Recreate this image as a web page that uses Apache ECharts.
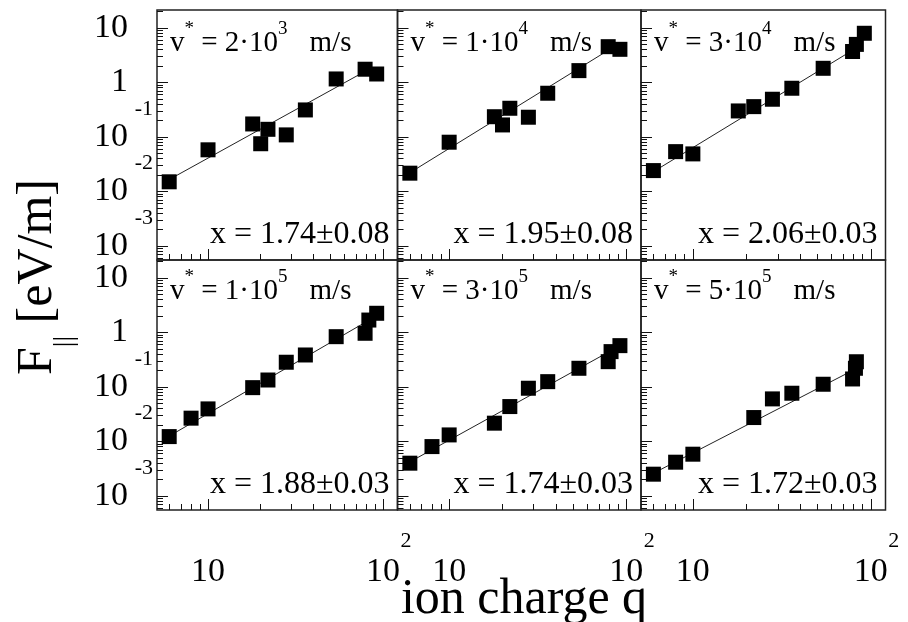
<!DOCTYPE html>
<html><head><meta charset="utf-8">
<script src="https://cdn.jsdelivr.net/npm/echarts@6/dist/echarts.min.js"></script>
<style>html,body{margin:0;padding:0;background:#fff}#c{width:908px;height:622px}</style>
</head><body><div id="c"></div>
<script>
// ---- data (ion charge q, stopping force F|| in eV/m) ----
const q1 = [6, 10, 18, 20, 22, 28, 36, 54, 79, 92];
const F1 = [0.015, 0.058, 0.173, 0.075, 0.138, 0.109, 0.313, 1.16, 1.75, 1.43];
const q2 = [6, 10, 18, 20, 22, 28, 36, 54, 79, 92];
const F2 = [0.0216, 0.080, 0.235, 0.166, 0.336, 0.230, 0.634, 1.65, 4.54, 4.06];
const q3 = [6, 8, 10, 18, 22, 28, 36, 54, 79, 83, 92];
const F3 = [0.0241, 0.0537, 0.0488, 0.300, 0.360, 0.492, 0.783, 1.82, 3.7, 5.0, 8.0];
const q4 = [6, 8, 10, 18, 22, 28, 36, 54, 79, 83, 92];
const F4 = [0.01225, 0.0267, 0.0395, 0.097, 0.134, 0.284, 0.386, 0.837, 0.966, 1.69, 2.25];
const q5 = [6, 8, 10, 18, 22, 28, 36, 54, 79, 82, 92];
const F5 = [0.00398, 0.00803, 0.01315, 0.0216, 0.0436, 0.0946, 0.125, 0.220, 0.291, 0.445, 0.573];
const q6 = [6, 8, 10, 22, 28, 36, 54, 79, 82, 83];
const F6 = [0.0025, 0.00415, 0.00582, 0.0274, 0.0603, 0.0766, 0.112, 0.14, 0.22, 0.29];

// fit lines (end points)
const fitQ1 = [6, 79], fitF1 = [0.0165, 1.6];
const fitQ2 = [6, 82], fitF2 = [0.022, 4.2];
const fitQ3 = [6, 80], fitF3 = [0.023, 4.0];
const fitQ4 = [6, 85], fitF4 = [0.0125, 1.75];
const fitQ5 = [6, 92], fitF5 = [0.0042, 0.57];
const fitQ6 = [6, 79], fitF6 = [0.0026, 0.2];

// panel texts
const vMantissa = ['2', '1', '3', '1', '3', '5'];
const vExponent = ['3', '4', '4', '5', '5', '5'];
const slopeText = ['1.74±0.08', '1.95±0.08', '2.06±0.03', '1.88±0.03', '1.74±0.03', '1.72±0.03'];

// ticks
const xMajorTicks = [10, 100];
const xMinorTicks = [6, 7, 8, 9, 20, 30, 40, 50, 60, 70, 80, 90];
const xSupTicks = [100];
const yMajorTicks = [0.001, 0.01, 0.1, 1, 10];
const ySupTicks = [0.001, 0.01, 0.1];
const yMinorTicks = [0.0006, 0.0007, 0.0008, 0.0009,
  0.002, 0.003, 0.004, 0.005, 0.006, 0.007, 0.008, 0.009,
  0.02, 0.03, 0.04, 0.05, 0.06, 0.07, 0.08, 0.09,
  0.2, 0.3, 0.4, 0.5, 0.6, 0.7, 0.8, 0.9,
  2, 3, 4, 5, 6, 7, 8, 9, 20];

const X_MIN = 5.11, X_MAX = 121, Y_MIN = 0.00055, Y_MAX = 21.4;

const panels = [
  {q: q1, F: F1, fq: fitQ1, fF: fitF1},
  {q: q2, F: F2, fq: fitQ2, fF: fitF2},
  {q: q3, F: F3, fq: fitQ3, fF: fitF3},
  {q: q4, F: F4, fq: fitQ4, fF: fitF4},
  {q: q5, F: F5, fq: fitQ5, fF: fitF5},
  {q: q6, F: F6, fq: fitQ6, fF: fitF6}
];

const FONT = '"Liberation Serif", "Times New Roman", serif';
const cols = [{left: 157, width: 240.5}, {left: 397.5, width: 243.5}, {left: 641, width: 244.5}];
const rows = [{top: 10, height: 250}, {top: 260, height: 250}];

function baseLabel(v) { return v > 0.5 && v < 2 ? '1' : '10'; }
function yExpLabel(v) { return String(Math.round(Math.log10(v))); }
function xExpLabel(v) { return String(Math.round(Math.log10(v))); }

const grids = [], xAxes = [], yAxes = [], series = [], graphics = [];
const tickColor = '#111';
const lblBase = {fontSize: 34, fontFamily: FONT, color: '#000', showMinLabel: true, showMaxLabel: true, hideOverlap: false};
const lblSup = {fontSize: 22, fontFamily: FONT, color: '#000', showMinLabel: true, showMaxLabel: true, hideOverlap: false};

panels.forEach((p, i) => {
  const r = Math.floor(i / 3), c = i % 3;
  grids.push({left: cols[c].left, width: cols[c].width, top: rows[r].top, height: rows[r].height,
    show: true, borderColor: '#222', borderWidth: 1.5, backgroundColor: 'transparent', outerBoundsMode: 'none'});
  const xi = xAxes.length, yi = yAxes.length;
  const common = {type: 'log', gridIndex: i, splitLine: {show: false}, axisLine: {show: false, onZero: false}};
  // major x ticks + base labels
  xAxes.push(Object.assign({}, common, {position: 'bottom', min: X_MIN, max: X_MAX,
    axisTick: {show: true, inside: true, length: 11, customValues: xMajorTicks, lineStyle: {color: tickColor, width: 1}},
    axisLabel: Object.assign({show: r === 1, customValues: xMajorTicks, formatter: baseLabel, margin: 45}, lblBase)}));
  // minor x ticks + exponent labels
  xAxes.push(Object.assign({}, common, {position: 'bottom', min: X_MIN, max: X_MAX,
    axisTick: {show: true, inside: true, length: 6, customValues: xMinorTicks, lineStyle: {color: tickColor, width: 1}},
    axisLabel: Object.assign({show: r === 1, customValues: xSupTicks, formatter: xExpLabel, margin: 20,
      padding: [0, 0, 0, 46]}, lblSup)}));
  // major y ticks + base labels
  yAxes.push(Object.assign({}, common, {position: 'left', min: Y_MIN, max: Y_MAX,
    axisTick: {show: true, inside: true, length: 11, customValues: yMajorTicks, lineStyle: {color: tickColor, width: 1}},
    axisLabel: Object.assign({show: c === 0, customValues: yMajorTicks, formatter: baseLabel, margin: 29}, lblBase)}));
  // minor y ticks + exponent labels
  yAxes.push(Object.assign({}, common, {position: 'left', min: Y_MIN, max: Y_MAX,
    axisTick: {show: true, inside: true, length: 6, customValues: yMinorTicks, lineStyle: {color: tickColor, width: 1}},
    axisLabel: Object.assign({show: c === 0, customValues: ySupTicks, formatter: yExpLabel, margin: 4,
      verticalAlign: 'bottom', padding: [0, 0, 17, 0]}, lblSup)}));

  series.push({type: 'line', xAxisIndex: xi, yAxisIndex: yi, symbol: 'none', z: 2,
    lineStyle: {color: '#222', width: 1}, data: p.fq.map((q, k) => [q, p.fF[k]]), silent: true, animation: false});
  series.push({type: 'scatter', xAxisIndex: xi, yAxisIndex: yi, symbol: 'rect', symbolSize: 15, z: 3,
    itemStyle: {color: '#000', opacity: 1}, data: p.q.map((q, k) => [q, p.F[k]]), animation: false});

  const left = cols[c].left, right = cols[c].left + cols[c].width;
  const yTop = r === 0 ? 43 : 291, yBot = r === 0 ? 235 : 485;
  graphics.push({type: 'text', x: left + 13, y: yTop, z: 10, style: {
    text: '{t|v}{u|*}{t| = ' + vMantissa[i] + '·10}{u|' + vExponent[i] + '}{m|m/s}',
    align: 'left', verticalAlign: 'middle', fill: '#000',
    rich: {t: {fontSize: 29, fontFamily: FONT, fill: '#000', lineHeight: 46},
           m: {fontSize: 29, fontFamily: FONT, fill: '#000', lineHeight: 46, padding: [0, 0, 0, 22]},
           u: {fontSize: 19, fontFamily: FONT, fill: '#000', lineHeight: 19, verticalAlign: 'top'}}}});
  graphics.push({type: 'text', x: right - 8, y: yBot, z: 10, style: {
    text: 'x = ' + slopeText[i], align: 'right', verticalAlign: 'middle', fill: '#000',
    fontSize: 32, fontFamily: FONT}});
});

graphics.push({type: 'text', x: 524, y: 600, style: {text: 'ion charge q', align: 'center', verticalAlign: 'middle',
  fill: '#000', fontSize: 50, fontFamily: FONT}});
graphics.push({type: 'text', x: 38, y: 277, rotation: Math.PI / 2, style: {
  text: '{f|F}{s|||}{f| [eV/m]}', align: 'center', verticalAlign: 'middle', fill: '#000',
  rich: {f: {fontSize: 50, fontFamily: FONT, fill: '#000', lineHeight: 82},
         s: {fontSize: 28, fontFamily: FONT, fill: '#000', lineHeight: 28, verticalAlign: 'bottom'}}}});

const chart = echarts.init(document.getElementById('c'), null, {renderer: 'canvas'});
chart.setOption({
  backgroundColor: '#fff',
  animation: false,
  grid: grids,
  xAxis: xAxes,
  yAxis: yAxes,
  series: series,
  graphic: graphics
});
</script>
</body></html>
